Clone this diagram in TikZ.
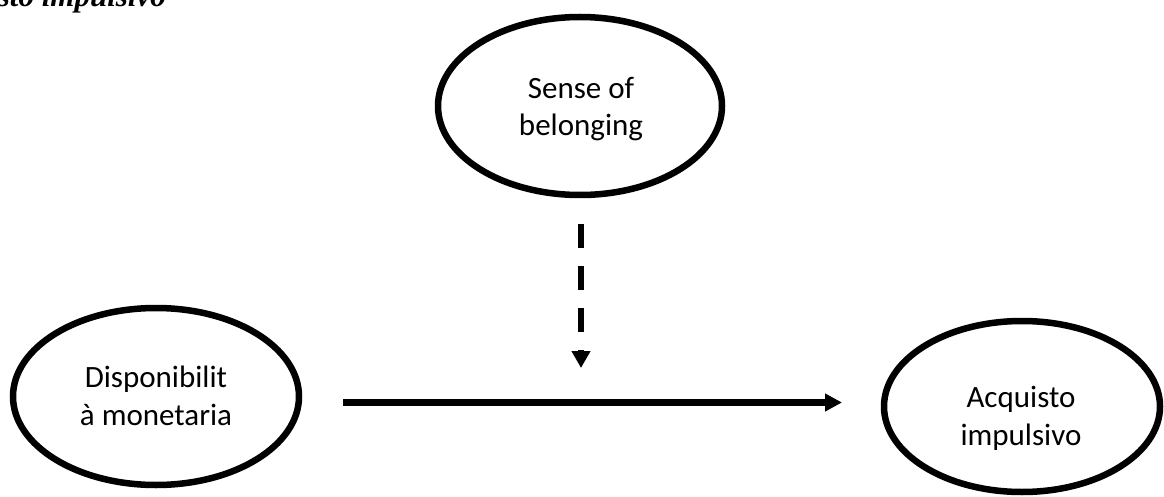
\documentclass[tikz,border=0pt]{standalone}
\usepackage{fontspec}
\setmainfont{Carlito}
\newfontfamily\titlefont{Liberation Serif}
\usetikzlibrary{arrows.meta}
\begin{document}
\begin{tikzpicture}[x=1pt,y=-1pt,
  ovalline/.style={draw=black,line width=6.5pt},
  lbl/.style={align=center,inner sep=0pt,font=\fontsize{31}{37.8}\selectfont},
  solidarr/.style={line width=6.5pt,-{Triangle[length=17pt,width=17pt]}},
  dasharr/.style={line width=6.5pt,dash pattern=on 24pt off 18pt,-{Triangle[length=17pt,width=18pt]}}]
\useasboundingbox (0,0) rectangle (1164,497);
\clip (0,0) rectangle (1164,497);
\node[anchor=base east,inner sep=0pt,font=\titlefont\bfseries\itshape\fontsize{31}{36}\selectfont] (title) at (166,7) {Acquisto impulsivo};
\draw[ovalline] (580,106) ellipse [x radius=142, y radius=89];
\node[lbl] (sob) at (581,109) {Sense of\\belonging};
\draw[ovalline] (156,396.5) ellipse [x radius=143, y radius=88.5];
\node[lbl] (dm) at (156,396) {Disponibilit\\à monetaria};
\draw[ovalline] (1022,406.5) ellipse [x radius=138, y radius=85.5];
\node[lbl] (ai) at (1021,418) {Acquisto\\impulsivo};
\coordinate (ds) at (581,224);
\coordinate (de) at (581,368);
\coordinate (hs) at (343,402.5);
\coordinate (he) at (842,402.5);
\draw[dasharr] (ds) -- (de);
\draw[solidarr] (hs) -- (he);
\end{tikzpicture}
\end{document}
